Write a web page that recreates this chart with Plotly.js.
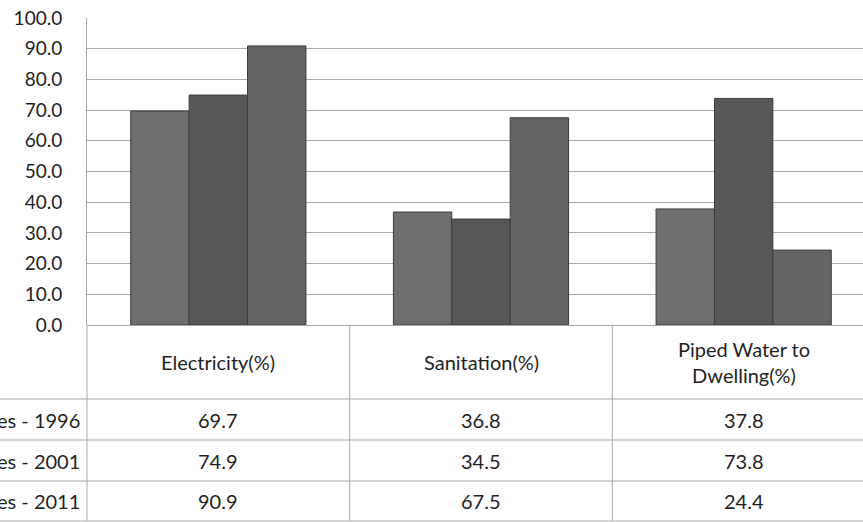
<!DOCTYPE html>
<html>
<head>
<meta charset="utf-8">
<script src="https://cdn.plot.ly/plotly-3.0.1.min.js"></script>
<style>
  html, body { margin: 0; padding: 0; overflow: hidden; background: #fff; }
  #chart { width: 880px; height: 522px; }
</style>
</head>
<body>
<div id="chart"></div>
<script>
// ---- data ----
const categories = ["Electricity(%)", "Sanitation(%)", "Piped Water to<br>Dwelling(%)"];
const seriesNames = ["es - 1996", "es - 2001", "es - 2011"];
const values1996 = [69.7, 36.8, 37.8];
const values2001 = [74.9, 34.5, 73.8];
const values2011 = [90.9, 67.5, 24.4];
const yTicks = [0, 10, 20, 30, 40, 50, 60, 70, 80, 90, 100];

// ---- styling ----
const barColors = ["#6e6e6e", "#575757", "#646464"];
const seriesValues = [values1996, values2001, values2011];
const FONT = "Lato, 'Open Sans', sans-serif";
const TEXT = "#1f1f1f";
const GRID = "#a8a8a8";
const TABLE_SIZE = 20;

const W = 880, H = 522;
const M = { l: 87, r: 5, t: 18, b: 197 };
const plotH = H - M.t - M.b;          // 307
const plotBottom = H - M.b;           // 325
const py = (pix) => (plotBottom - pix) / plotH;   // pixel row -> paper y
const plotW = W - M.l - M.r;
const px = (pix) => (pix - M.l) / plotW;           // pixel col -> paper x

const traces = seriesValues.map((vals, i) => ({
  type: "bar",
  name: seriesNames[i],
  x: categories,
  y: vals,
  marker: { color: barColors[i], line: { color: "#3c3c3c", width: 1 } },
  hoverinfo: "skip"
}));

const nCat = categories.length;
const shapes = [];
const lineStyle = { color: GRID, width: 1 };
const rowLines = [399, 440, 481, 521];
rowLines.forEach(r => {
  shapes.push({ type: "line", xref: "paper", yref: "paper",
    x0: px(0), x1: 1.05, y0: py(r), y1: py(r), line: lineStyle });
});
for (let i = 0; i <= nCat; i++) {
  shapes.push({ type: "line", xref: "paper", yref: "paper",
    x0: i / nCat, x1: i / nCat, y0: 0, y1: py(521), line: lineStyle });
}

const annotations = [];
categories.forEach((c, i) => {
  annotations.push({ xref: "paper", yref: "paper", x: (i + 0.5) / nCat, y: py(362),
    text: c, showarrow: false, xanchor: "center", yanchor: "middle",
    font: { family: FONT, size: TABLE_SIZE, color: TEXT } });
});
const rowCenters = [420, 461, 501];
seriesValues.forEach((vals, r) => {
  annotations.push({ xref: "paper", yref: "paper", x: px(82), y: py(rowCenters[r]),
    text: seriesNames[r], showarrow: false, xanchor: "right", yanchor: "middle",
    font: { family: FONT, size: TABLE_SIZE, color: TEXT } });
  vals.forEach((v, i) => {
    annotations.push({ xref: "paper", yref: "paper", x: (i + 0.5) / nCat, y: py(rowCenters[r]),
      text: v.toFixed(1), showarrow: false, xanchor: "center", yanchor: "middle",
      font: { family: FONT, size: TABLE_SIZE, color: TEXT } });
  });
});

const layout = {
  width: W, height: H,
  margin: M,
  paper_bgcolor: "#ffffff",
  plot_bgcolor: "#ffffff",
  showlegend: false,
  barmode: "group",
  bargap: 0.333,
  bargroupgap: 0,
  xaxis: {
    type: "category",
    range: [-0.5, nCat - 0.5],
    showticklabels: false,
    showgrid: false,
    zeroline: false,
    showline: false,
    fixedrange: true
  },
  yaxis: {
    range: [0, 100],
    tickvals: yTicks,
    tickformat: ".1f",
    showgrid: true,
    gridcolor: GRID,
    gridwidth: 1,
    zeroline: true,
    zerolinecolor: GRID,
    showline: true,
    linecolor: GRID,
    ticks: "",
    ticklabelstandoff: 20,
    tickfont: { family: FONT, size: 19, color: TEXT },
    fixedrange: true
  },
  shapes: shapes,
  annotations: annotations
};

Plotly.newPlot("chart", traces, layout, { displayModeBar: false, staticPlot: true });
</script>
</body>
</html>
